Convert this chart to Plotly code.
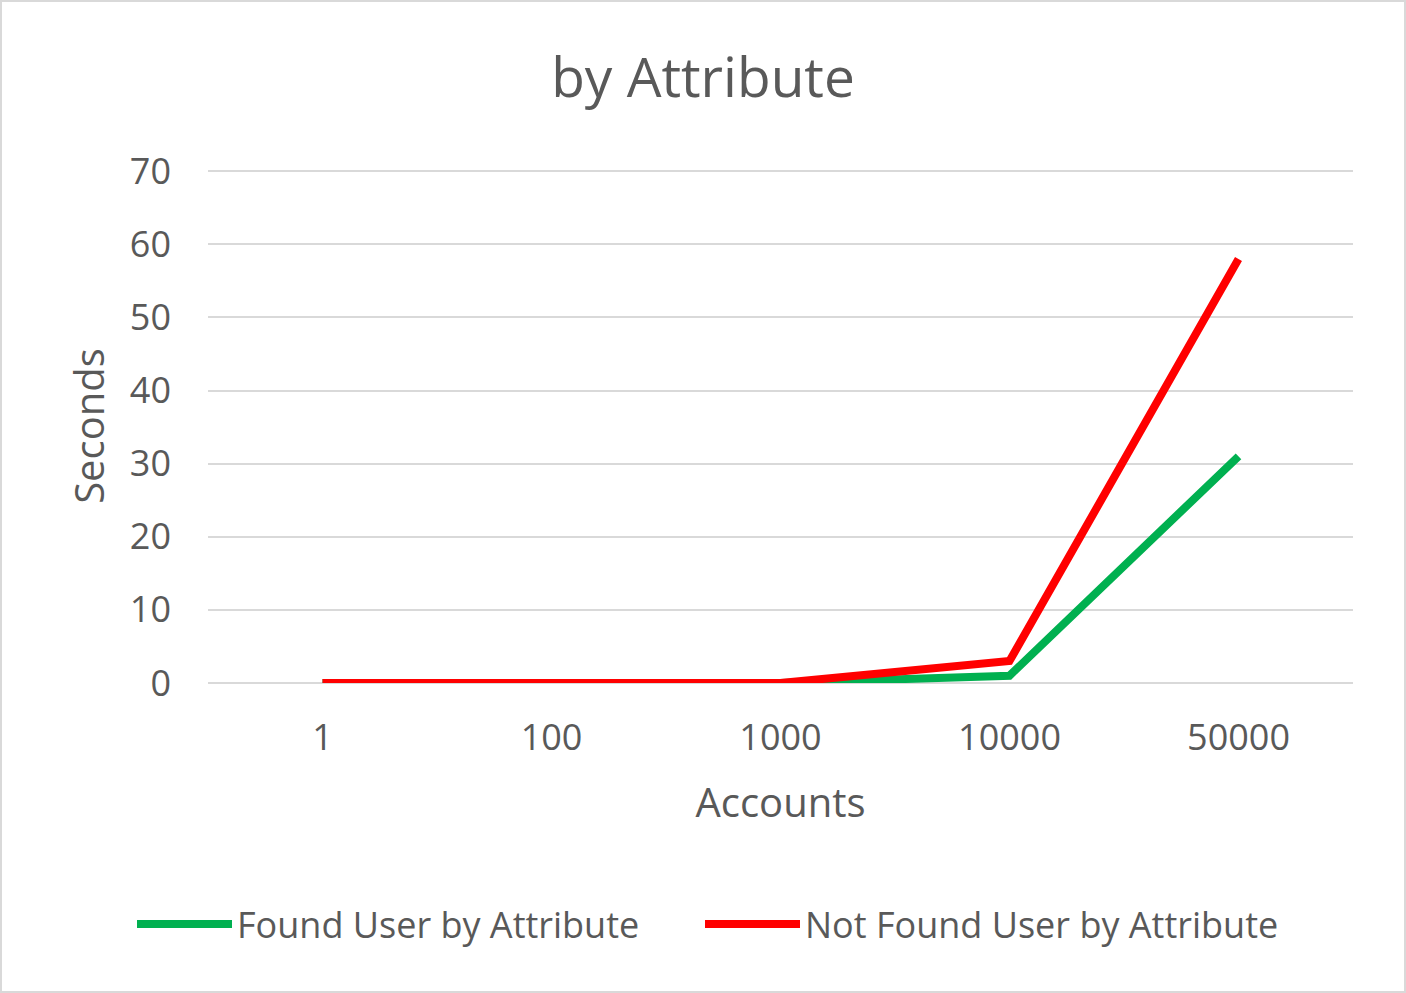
import plotly.graph_objects as go

categories = ["1", "100", "1000", "10000", "50000"]
found = [0, 0, 0, 1, 31]
not_found = [0, 0, 0, 3, 58]
series_names = ["Found User by Attribute", "Not Found User by Attribute"]

W, H = 1406, 993
L, R, T, B = 208, 53, 169, 310
pw, ph = W - L - R, H - T - B

font = "Open Sans, Liberation Sans, sans-serif"
grey = "#595959"

fig = go.Figure()
fig.add_trace(go.Scatter(x=categories, y=found, mode="lines", name=series_names[0],
                         line=dict(color="#00B050", width=8), legend="legend", showlegend=True))
fig.add_trace(go.Scatter(x=categories, y=not_found, mode="lines", name=series_names[1],
                         line=dict(color="#FF0000", width=8), legend="legend2", showlegend=True))

leg_common = dict(orientation="h", xanchor="left", y=-(924 - 683) / ph, yanchor="middle",
                  font=dict(size=36, color=grey), itemwidth=95, bgcolor="rgba(0,0,0,0)")

fig.update_layout(
    width=W, height=H,
    margin=dict(l=L, r=R, t=T, b=B),
    showlegend=True,
    paper_bgcolor="white", plot_bgcolor="white",
    font=dict(family=font, color=grey, size=36),
    title=dict(text="by Attribute", x=0.5, xanchor="center", y=1 - 78 / H, yanchor="middle",
               font=dict(size=55, color=grey, family=font)),
    xaxis=dict(type="category", range=[-0.5, 4.5], showgrid=False, showline=False,
               ticks="", tickfont=dict(size=36, color=grey), ticklabelstandoff=30,
               title=dict(text="Accounts", font=dict(size=40, color=grey), standoff=28)),
    yaxis=dict(range=[0, 70.3], tickvals=[0, 10, 20, 30, 40, 50, 60, 70],
               showgrid=True, gridcolor="#D9D9D9", gridwidth=2,
               zeroline=True, zerolinecolor="#D9D9D9", zerolinewidth=2,
               showline=False, ticks="", ticklabelstandoff=36,
               tickfont=dict(size=36, color=grey),
               title=dict(text="Seconds", font=dict(size=40, color=grey), standoff=12)),
    legend=dict(x=(132 - L) / pw, visible=True, **leg_common),
    legend2=dict(x=(700 - L) / pw, visible=True, **leg_common),
    shapes=[dict(type="rect", xref="paper", yref="paper",
                 x0=-(L - 1) / pw, x1=1 + (R - 1) / pw, y0=-(B - 1) / ph, y1=1 + (T - 1) / ph,
                 line=dict(color="#D9D9D9", width=2), fillcolor="rgba(0,0,0,0)", layer="below")],
)

fig.write_html("out.html")
